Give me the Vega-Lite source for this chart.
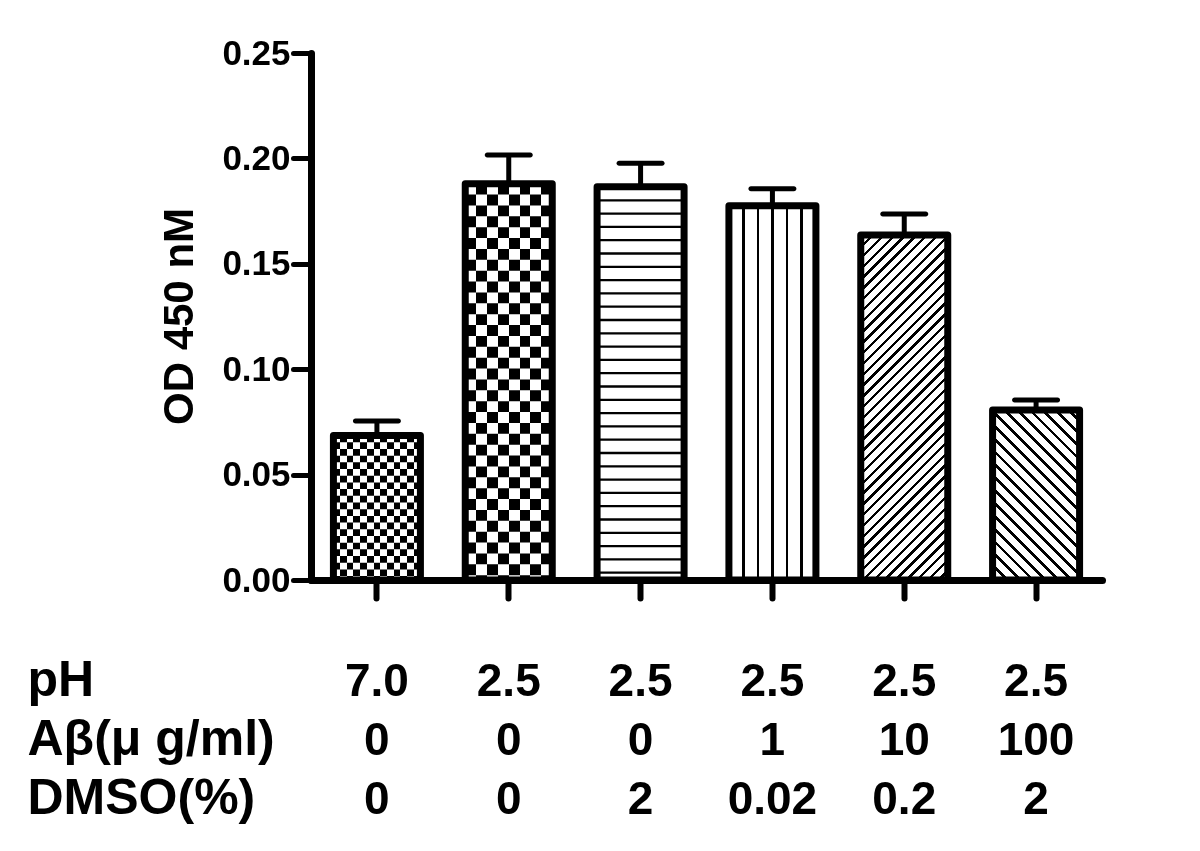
{
  "$schema": "https://vega.github.io/schema/vega-lite/v6.json",
  "width": 791,
  "height": 527,
  "autosize": "none",
  "padding": {"left": 311, "top": 53, "right": 98, "bottom": 271},
  "background": "white",
  "config": {"view": {"stroke": null}, "font": "Liberation Sans"},
  "data": {"values": [
    {"label": "7.0|0|0", "value": 0.0685, "err": 0.0754},
    {"label": "2.5|0|0", "value": 0.188, "err": 0.2016},
    {"label": "2.5|0|2", "value": 0.1865, "err": 0.1977},
    {"label": "2.5|1|0.02", "value": 0.1775, "err": 0.1856},
    {"label": "2.5|10|0.2", "value": 0.1637, "err": 0.1736},
    {"label": "2.5|100|2", "value": 0.0806, "err": 0.0854}
  ]},
  "encoding": {
    "x": {
      "field": "label", "type": "nominal",
      "scale": {"domain": ["7.0|0|0", "2.5|0|0", "2.5|0|2", "2.5|1|0.02", "2.5|10|0.2", "2.5|100|2"], "paddingInner": 0, "paddingOuter": 0},
      "axis": {
        "title": ["pH", "Aβ(μ g/ml)", "DMSO(%)"],
        "labelExpr": "split(datum.value, '|')",
        "domainColor": "black", "domainWidth": 7, "domainCap": "round",
        "tickColor": "black", "tickWidth": 6, "tickSize": 18, "tickCap": "round",
        "labelFont": "Liberation Sans", "labelFontWeight": "bold", "labelFontSize": 46, "labelColor": "black",
        "labelPadding": 97, "labelBaseline": "alphabetic", "labelLineHeight": 59, "labelAngle": 0, "labelOverlap": false,
        "titleFont": "Liberation Sans", "titleFontWeight": "bold", "titleFontSize": 50, "titleColor": "black",
        "titleAlign": "left", "titleX": -284, "titleY": 115, "titleBaseline": "alphabetic", "titleLineHeight": 59
      }
    },
    "y": {
      "field": "value", "type": "quantitative",
      "scale": {"domain": [0, 0.25], "nice": false},
      "axis": {
        "title": "OD 450 nM",
        "values": [0, 0.05, 0.1, 0.15, 0.2, 0.25], "format": ".2f", "grid": false,
        "domainColor": "black", "domainWidth": 7, "domainCap": "round",
        "tickColor": "black", "tickWidth": 5, "tickSize": 18, "tickCap": "round",
        "labelFont": "Liberation Sans", "labelFontWeight": "bold", "labelFontSize": 35, "labelColor": "black",
        "labelPadding": 3, "labelFlush": false, "labelOverlap": false,
        "titleFont": "Liberation Sans", "titleFontWeight": "bold", "titleFontSize": 42, "titleColor": "black",
        "titleX": -119, "titleY": 263, "titleAngle": -90, "titleBaseline": "alphabetic", "titleAlign": "center"
      }
    }
  },
  "layer": [
    {"mark": {"type": "bar", "width": 87, "fill": "white", "strokeWidth": 0}},
    {"transform": [{"filter": {"field": "label", "equal": "7.0|0|0"}}],
     "mark": {"type": "rule", "color": "black", "strokeWidth": 87, "strokeCap": "butt", "strokeDash": [6.69, 6.69]},
     "encoding": {"y2": {"datum": 0}}},
    {"transform": [{"filter": {"field": "label", "equal": "7.0|0|0"}}],
     "mark": {"type": "bar", "width": 87, "strokeWidth": 0, "blend": "difference",
       "fill": {"gradient": "linear", "x1": 0, "y1": 0, "x2": 1, "y2": 0, "stops": [
         {"offset": 0, "color": "#fff"}, {"offset": 0.0769, "color": "#fff"}, {"offset": 0.0769, "color": "rgba(255,255,255,0)"}, {"offset": 0.1538, "color": "rgba(255,255,255,0)"},
         {"offset": 0.1538, "color": "#fff"}, {"offset": 0.2308, "color": "#fff"}, {"offset": 0.2308, "color": "rgba(255,255,255,0)"}, {"offset": 0.3077, "color": "rgba(255,255,255,0)"},
         {"offset": 0.3077, "color": "#fff"}, {"offset": 0.3846, "color": "#fff"}, {"offset": 0.3846, "color": "rgba(255,255,255,0)"}, {"offset": 0.4615, "color": "rgba(255,255,255,0)"},
         {"offset": 0.4615, "color": "#fff"}, {"offset": 0.5385, "color": "#fff"}, {"offset": 0.5385, "color": "rgba(255,255,255,0)"}, {"offset": 0.6154, "color": "rgba(255,255,255,0)"},
         {"offset": 0.6154, "color": "#fff"}, {"offset": 0.6923, "color": "#fff"}, {"offset": 0.6923, "color": "rgba(255,255,255,0)"}, {"offset": 0.7692, "color": "rgba(255,255,255,0)"},
         {"offset": 0.7692, "color": "#fff"}, {"offset": 0.8462, "color": "#fff"}, {"offset": 0.8462, "color": "rgba(255,255,255,0)"}, {"offset": 0.9231, "color": "rgba(255,255,255,0)"},
         {"offset": 0.9231, "color": "#fff"}, {"offset": 1, "color": "#fff"}
       ]}}},
    {"transform": [{"filter": {"field": "label", "equal": "2.5|0|0"}}],
     "mark": {"type": "rule", "color": "black", "strokeWidth": 87, "strokeCap": "butt", "strokeDash": [10.875, 10.875]},
     "encoding": {"y2": {"datum": 0}}},
    {"transform": [{"filter": {"field": "label", "equal": "2.5|0|0"}}],
     "mark": {"type": "bar", "width": 87, "strokeWidth": 0, "blend": "difference",
       "fill": {"gradient": "linear", "x1": 0, "y1": 0, "x2": 1, "y2": 0, "stops": [
         {"offset": 0, "color": "#fff"}, {"offset": 0.125, "color": "#fff"}, {"offset": 0.125, "color": "rgba(255,255,255,0)"}, {"offset": 0.25, "color": "rgba(255,255,255,0)"},
         {"offset": 0.25, "color": "#fff"}, {"offset": 0.375, "color": "#fff"}, {"offset": 0.375, "color": "rgba(255,255,255,0)"}, {"offset": 0.5, "color": "rgba(255,255,255,0)"},
         {"offset": 0.5, "color": "#fff"}, {"offset": 0.625, "color": "#fff"}, {"offset": 0.625, "color": "rgba(255,255,255,0)"}, {"offset": 0.75, "color": "rgba(255,255,255,0)"},
         {"offset": 0.75, "color": "#fff"}, {"offset": 0.875, "color": "#fff"}, {"offset": 0.875, "color": "rgba(255,255,255,0)"}, {"offset": 1, "color": "rgba(255,255,255,0)"}
       ]}}},
    {"transform": [{"filter": {"field": "label", "equal": "2.5|0|2"}}],
     "mark": {"type": "rule", "color": "black", "strokeWidth": 87, "strokeCap": "butt", "strokeDash": [2.3, 11], "strokeDashOffset": 1},
     "encoding": {"y2": {"datum": 0}}},
    {"transform": [{"filter": {"field": "label", "equal": "2.5|1|0.02"}}],
     "mark": {"type": "bar", "width": 87, "strokeWidth": 0,
       "fill": {"gradient": "linear", "x1": 0, "y1": 0, "x2": 1, "y2": 0, "stops": [
         {"offset": 0, "color": "#fff"}, {"offset": 0.1523, "color": "#fff"}, {"offset": 0.1523, "color": "#000"}, {"offset": 0.181, "color": "#000"}, {"offset": 0.181, "color": "#fff"},
         {"offset": 0.319, "color": "#fff"}, {"offset": 0.319, "color": "#000"}, {"offset": 0.3477, "color": "#000"}, {"offset": 0.3477, "color": "#fff"},
         {"offset": 0.4856, "color": "#fff"}, {"offset": 0.4856, "color": "#000"}, {"offset": 0.5144, "color": "#000"}, {"offset": 0.5144, "color": "#fff"},
         {"offset": 0.6523, "color": "#fff"}, {"offset": 0.6523, "color": "#000"}, {"offset": 0.681, "color": "#000"}, {"offset": 0.681, "color": "#fff"},
         {"offset": 0.819, "color": "#fff"}, {"offset": 0.819, "color": "#000"}, {"offset": 0.8477, "color": "#000"}, {"offset": 0.8477, "color": "#fff"},
         {"offset": 1, "color": "#fff"}
       ]}}},
    {"transform": [{"filter": {"field": "label", "equal": "2.5|10|0.2"}}],
     "mark": {"type": "bar", "width": 87, "strokeWidth": 0,
       "fill": {"gradient": "linear", "x1": 0, "y1": 0, "x2": 0.2968, "y2": 1.1773, "stops": [
         {"offset": 0, "color": "#000"}, {"offset": 0.008, "color": "#000"}, {"offset": 0.008, "color": "#fff"}, {"offset": 0.025, "color": "#fff"},
         {"offset": 0.025, "color": "#000"}, {"offset": 0.033, "color": "#000"}, {"offset": 0.033, "color": "#fff"}, {"offset": 0.05, "color": "#fff"},
         {"offset": 0.05, "color": "#000"}, {"offset": 0.058, "color": "#000"}, {"offset": 0.058, "color": "#fff"}, {"offset": 0.075, "color": "#fff"},
         {"offset": 0.075, "color": "#000"}, {"offset": 0.083, "color": "#000"}, {"offset": 0.083, "color": "#fff"}, {"offset": 0.1, "color": "#fff"},
         {"offset": 0.1, "color": "#000"}, {"offset": 0.108, "color": "#000"}, {"offset": 0.108, "color": "#fff"}, {"offset": 0.125, "color": "#fff"},
         {"offset": 0.125, "color": "#000"}, {"offset": 0.133, "color": "#000"}, {"offset": 0.133, "color": "#fff"}, {"offset": 0.15, "color": "#fff"},
         {"offset": 0.15, "color": "#000"}, {"offset": 0.158, "color": "#000"}, {"offset": 0.158, "color": "#fff"}, {"offset": 0.175, "color": "#fff"},
         {"offset": 0.175, "color": "#000"}, {"offset": 0.183, "color": "#000"}, {"offset": 0.183, "color": "#fff"}, {"offset": 0.2, "color": "#fff"},
         {"offset": 0.2, "color": "#000"}, {"offset": 0.208, "color": "#000"}, {"offset": 0.208, "color": "#fff"}, {"offset": 0.225, "color": "#fff"},
         {"offset": 0.225, "color": "#000"}, {"offset": 0.233, "color": "#000"}, {"offset": 0.233, "color": "#fff"}, {"offset": 0.25, "color": "#fff"},
         {"offset": 0.25, "color": "#000"}, {"offset": 0.258, "color": "#000"}, {"offset": 0.258, "color": "#fff"}, {"offset": 0.275, "color": "#fff"},
         {"offset": 0.275, "color": "#000"}, {"offset": 0.283, "color": "#000"}, {"offset": 0.283, "color": "#fff"}, {"offset": 0.3, "color": "#fff"},
         {"offset": 0.3, "color": "#000"}, {"offset": 0.308, "color": "#000"}, {"offset": 0.308, "color": "#fff"}, {"offset": 0.325, "color": "#fff"},
         {"offset": 0.325, "color": "#000"}, {"offset": 0.333, "color": "#000"}, {"offset": 0.333, "color": "#fff"}, {"offset": 0.35, "color": "#fff"},
         {"offset": 0.35, "color": "#000"}, {"offset": 0.358, "color": "#000"}, {"offset": 0.358, "color": "#fff"}, {"offset": 0.375, "color": "#fff"},
         {"offset": 0.375, "color": "#000"}, {"offset": 0.383, "color": "#000"}, {"offset": 0.383, "color": "#fff"}, {"offset": 0.4, "color": "#fff"},
         {"offset": 0.4, "color": "#000"}, {"offset": 0.408, "color": "#000"}, {"offset": 0.408, "color": "#fff"}, {"offset": 0.425, "color": "#fff"},
         {"offset": 0.425, "color": "#000"}, {"offset": 0.433, "color": "#000"}, {"offset": 0.433, "color": "#fff"}, {"offset": 0.45, "color": "#fff"},
         {"offset": 0.45, "color": "#000"}, {"offset": 0.458, "color": "#000"}, {"offset": 0.458, "color": "#fff"}, {"offset": 0.475, "color": "#fff"},
         {"offset": 0.475, "color": "#000"}, {"offset": 0.483, "color": "#000"}, {"offset": 0.483, "color": "#fff"}, {"offset": 0.5, "color": "#fff"},
         {"offset": 0.5, "color": "#000"}, {"offset": 0.508, "color": "#000"}, {"offset": 0.508, "color": "#fff"}, {"offset": 0.525, "color": "#fff"},
         {"offset": 0.525, "color": "#000"}, {"offset": 0.533, "color": "#000"}, {"offset": 0.533, "color": "#fff"}, {"offset": 0.55, "color": "#fff"},
         {"offset": 0.55, "color": "#000"}, {"offset": 0.558, "color": "#000"}, {"offset": 0.558, "color": "#fff"}, {"offset": 0.575, "color": "#fff"},
         {"offset": 0.575, "color": "#000"}, {"offset": 0.583, "color": "#000"}, {"offset": 0.583, "color": "#fff"}, {"offset": 0.6, "color": "#fff"},
         {"offset": 0.6, "color": "#000"}, {"offset": 0.608, "color": "#000"}, {"offset": 0.608, "color": "#fff"}, {"offset": 0.625, "color": "#fff"},
         {"offset": 0.625, "color": "#000"}, {"offset": 0.633, "color": "#000"}, {"offset": 0.633, "color": "#fff"}, {"offset": 0.65, "color": "#fff"},
         {"offset": 0.65, "color": "#000"}, {"offset": 0.658, "color": "#000"}, {"offset": 0.658, "color": "#fff"}, {"offset": 0.675, "color": "#fff"},
         {"offset": 0.675, "color": "#000"}, {"offset": 0.683, "color": "#000"}, {"offset": 0.683, "color": "#fff"}, {"offset": 0.7, "color": "#fff"},
         {"offset": 0.7, "color": "#000"}, {"offset": 0.708, "color": "#000"}, {"offset": 0.708, "color": "#fff"}, {"offset": 0.725, "color": "#fff"},
         {"offset": 0.725, "color": "#000"}, {"offset": 0.733, "color": "#000"}, {"offset": 0.733, "color": "#fff"}, {"offset": 0.75, "color": "#fff"},
         {"offset": 0.75, "color": "#000"}, {"offset": 0.758, "color": "#000"}, {"offset": 0.758, "color": "#fff"}, {"offset": 0.775, "color": "#fff"},
         {"offset": 0.775, "color": "#000"}, {"offset": 0.783, "color": "#000"}, {"offset": 0.783, "color": "#fff"}, {"offset": 0.8, "color": "#fff"},
         {"offset": 0.8, "color": "#000"}, {"offset": 0.808, "color": "#000"}, {"offset": 0.808, "color": "#fff"}, {"offset": 0.825, "color": "#fff"},
         {"offset": 0.825, "color": "#000"}, {"offset": 0.833, "color": "#000"}, {"offset": 0.833, "color": "#fff"}, {"offset": 0.85, "color": "#fff"},
         {"offset": 0.85, "color": "#000"}, {"offset": 0.858, "color": "#000"}, {"offset": 0.858, "color": "#fff"}, {"offset": 0.875, "color": "#fff"},
         {"offset": 0.875, "color": "#000"}, {"offset": 0.883, "color": "#000"}, {"offset": 0.883, "color": "#fff"}, {"offset": 0.9, "color": "#fff"},
         {"offset": 0.9, "color": "#000"}, {"offset": 0.908, "color": "#000"}, {"offset": 0.908, "color": "#fff"}, {"offset": 0.925, "color": "#fff"},
         {"offset": 0.925, "color": "#000"}, {"offset": 0.933, "color": "#000"}, {"offset": 0.933, "color": "#fff"}, {"offset": 0.95, "color": "#fff"},
         {"offset": 0.95, "color": "#000"}, {"offset": 0.958, "color": "#000"}, {"offset": 0.958, "color": "#fff"}, {"offset": 0.975, "color": "#fff"},
         {"offset": 0.975, "color": "#000"}, {"offset": 0.983, "color": "#000"}, {"offset": 0.983, "color": "#fff"}, {"offset": 1, "color": "#fff"}
       ]}}},
    {"transform": [{"filter": {"field": "label", "equal": "2.5|100|2"}}],
     "mark": {"type": "bar", "width": 87, "strokeWidth": 0,
       "fill": {"gradient": "linear", "x1": 0, "y1": 1, "x2": 0.6134, "y2": -0.198, "stops": [
         {"offset": 0, "color": "#000"}, {"offset": 0.015, "color": "#000"}, {"offset": 0.015, "color": "#fff"}, {"offset": 0.05, "color": "#fff"},
         {"offset": 0.05, "color": "#000"}, {"offset": 0.065, "color": "#000"}, {"offset": 0.065, "color": "#fff"}, {"offset": 0.1, "color": "#fff"},
         {"offset": 0.1, "color": "#000"}, {"offset": 0.115, "color": "#000"}, {"offset": 0.115, "color": "#fff"}, {"offset": 0.15, "color": "#fff"},
         {"offset": 0.15, "color": "#000"}, {"offset": 0.165, "color": "#000"}, {"offset": 0.165, "color": "#fff"}, {"offset": 0.2, "color": "#fff"},
         {"offset": 0.2, "color": "#000"}, {"offset": 0.215, "color": "#000"}, {"offset": 0.215, "color": "#fff"}, {"offset": 0.25, "color": "#fff"},
         {"offset": 0.25, "color": "#000"}, {"offset": 0.265, "color": "#000"}, {"offset": 0.265, "color": "#fff"}, {"offset": 0.3, "color": "#fff"},
         {"offset": 0.3, "color": "#000"}, {"offset": 0.315, "color": "#000"}, {"offset": 0.315, "color": "#fff"}, {"offset": 0.35, "color": "#fff"},
         {"offset": 0.35, "color": "#000"}, {"offset": 0.365, "color": "#000"}, {"offset": 0.365, "color": "#fff"}, {"offset": 0.4, "color": "#fff"},
         {"offset": 0.4, "color": "#000"}, {"offset": 0.415, "color": "#000"}, {"offset": 0.415, "color": "#fff"}, {"offset": 0.45, "color": "#fff"},
         {"offset": 0.45, "color": "#000"}, {"offset": 0.465, "color": "#000"}, {"offset": 0.465, "color": "#fff"}, {"offset": 0.5, "color": "#fff"},
         {"offset": 0.5, "color": "#000"}, {"offset": 0.515, "color": "#000"}, {"offset": 0.515, "color": "#fff"}, {"offset": 0.55, "color": "#fff"},
         {"offset": 0.55, "color": "#000"}, {"offset": 0.565, "color": "#000"}, {"offset": 0.565, "color": "#fff"}, {"offset": 0.6, "color": "#fff"},
         {"offset": 0.6, "color": "#000"}, {"offset": 0.615, "color": "#000"}, {"offset": 0.615, "color": "#fff"}, {"offset": 0.65, "color": "#fff"},
         {"offset": 0.65, "color": "#000"}, {"offset": 0.665, "color": "#000"}, {"offset": 0.665, "color": "#fff"}, {"offset": 0.7, "color": "#fff"},
         {"offset": 0.7, "color": "#000"}, {"offset": 0.715, "color": "#000"}, {"offset": 0.715, "color": "#fff"}, {"offset": 0.75, "color": "#fff"},
         {"offset": 0.75, "color": "#000"}, {"offset": 0.765, "color": "#000"}, {"offset": 0.765, "color": "#fff"}, {"offset": 0.8, "color": "#fff"},
         {"offset": 0.8, "color": "#000"}, {"offset": 0.815, "color": "#000"}, {"offset": 0.815, "color": "#fff"}, {"offset": 0.85, "color": "#fff"},
         {"offset": 0.85, "color": "#000"}, {"offset": 0.865, "color": "#000"}, {"offset": 0.865, "color": "#fff"}, {"offset": 0.9, "color": "#fff"},
         {"offset": 0.9, "color": "#000"}, {"offset": 0.915, "color": "#000"}, {"offset": 0.915, "color": "#fff"}, {"offset": 0.95, "color": "#fff"},
         {"offset": 0.95, "color": "#000"}, {"offset": 0.965, "color": "#000"}, {"offset": 0.965, "color": "#fff"}, {"offset": 1, "color": "#fff"}
       ]}}},
    {"mark": {"type": "rule", "color": "black", "strokeWidth": 5},
     "encoding": {"y2": {"field": "err"}}},
    {"mark": {"type": "bar", "width": 87, "fill": "transparent", "stroke": "black", "strokeWidth": 7, "strokeJoin": "round"}},
    {"mark": {"type": "tick", "color": "black", "opacity": 1, "size": 48, "thickness": 5, "cornerRadius": 2.5, "orient": "horizontal"},
     "encoding": {"y": {"field": "err", "type": "quantitative", "scale": {"domain": [0, 0.25], "nice": false}, "title": "OD 450 nM"}}}
  ]
}
